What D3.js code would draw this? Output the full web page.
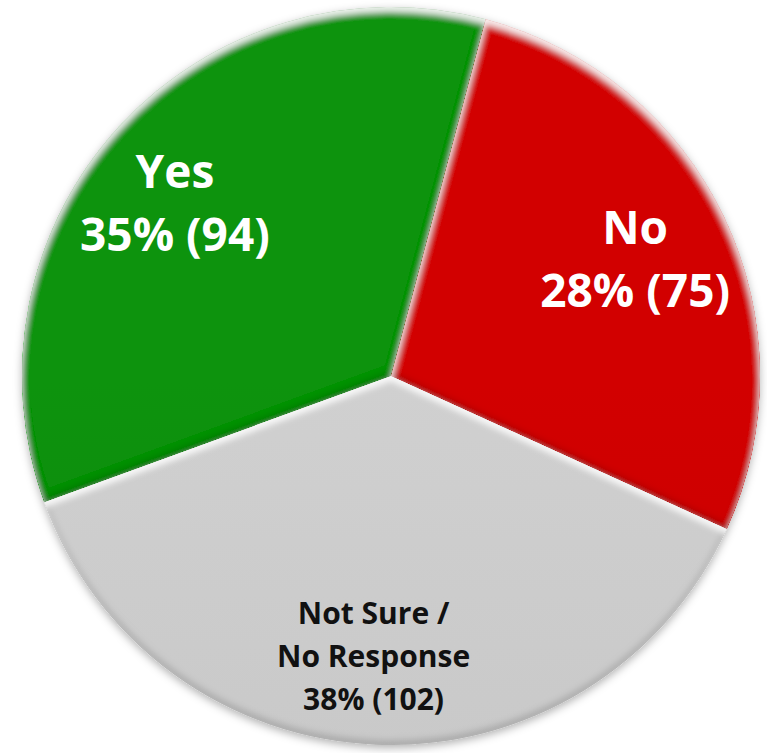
<!DOCTYPE html>
<html>
<head>
<meta charset="utf-8">
<script src="https://cdn.jsdelivr.net/npm/d3@7"></script>
<style>
  html, body { margin: 0; padding: 0; background: #fff; }
  svg { display: block; }
</style>
</head>
<body>
<svg id="chart" width="767" height="753"></svg>
<script>
// Survey responses
const categories = ["Yes", "No", "Not Sure / No Response"];
const counts = [94, 75, 102];
const percents = [35, 28, 38];
const labelLines = [
  ["Yes", "35% (94)"],
  ["No", "28% (75)"],
  ["Not Sure /", "No Response", "38% (102)"]
];

const sliceColors = {
  "Yes": ["#0b930b", "#078807", "#057905"],
  "No": ["#d20000", "#c90000", "#ba0000"],
  "Not Sure / No Response": ["#d0d0d0", "#c9c9c9", "#c0c0c0"]
};
const textColors = { "Yes": "#ffffff", "No": "#ffffff", "Not Sure / No Response": "#111111" };
const textStyle = {
  "Yes": { size: 46, lineH: 63, dx: -20, dy: 23 },
  "No": { size: 46, lineH: 63, dx: 4, dy: 13 },
  "Not Sure / No Response": { size: 30, lineH: 43, dx: -7, dy: 26 }
};

const W = 767, H = 753;
const cx = 391, cy = 376, R = 369;

const data = categories.map((c, i) => ({ name: c, count: counts[i], pct: percents[i], lines: labelLines[i] }));

const svg = d3.select("#chart");
const defs = svg.append("defs");

// soft drop shadow under the whole pie
const ds = defs.append("filter").attr("id", "pieShadow")
  .attr("x", "-10%").attr("y", "-10%").attr("width", "120%").attr("height", "120%");
ds.append("feDropShadow").attr("dx", 0).attr("dy", 3).attr("stdDeviation", 4)
  .attr("flood-color", "#000").attr("flood-opacity", 0.3);

// inner bevel: light from the top, shade along the bottom edges
const bv = defs.append("filter").attr("id", "bevel")
  .attr("x", "-5%").attr("y", "-5%").attr("width", "110%").attr("height", "110%");
bv.append("feGaussianBlur").attr("in", "SourceAlpha").attr("stdDeviation", 3).attr("result", "blur");
bv.append("feOffset").attr("in", "blur").attr("dy", 5).attr("result", "down");
bv.append("feComposite").attr("in", "SourceAlpha").attr("in2", "down")
  .attr("operator", "arithmetic").attr("k2", 1).attr("k3", -1).attr("result", "hiMask");
bv.append("feFlood").attr("flood-color", "#ffffff").attr("flood-opacity", 0.85).attr("result", "white");
bv.append("feComposite").attr("in", "white").attr("in2", "hiMask").attr("operator", "in").attr("result", "hi");
bv.append("feOffset").attr("in", "blur").attr("dy", -5).attr("result", "up");
bv.append("feComposite").attr("in", "SourceAlpha").attr("in2", "up")
  .attr("operator", "arithmetic").attr("k2", 1).attr("k3", -1).attr("result", "shMask");
bv.append("feFlood").attr("flood-color", "#000000").attr("flood-opacity", 0.3).attr("result", "black");
bv.append("feComposite").attr("in", "black").attr("in2", "shMask").attr("operator", "in").attr("result", "sh");
const merge = bv.append("feMerge");
merge.append("feMergeNode").attr("in", "SourceGraphic");
merge.append("feMergeNode").attr("in", "sh");
merge.append("feMergeNode").attr("in", "hi");

// vertical gradients per slice
data.forEach((d, i) => {
  const g = defs.append("linearGradient").attr("id", "grad" + i)
    .attr("gradientUnits", "userSpaceOnUse")
    .attr("x1", 0).attr("y1", cy - R).attr("x2", 0).attr("y2", cy + R);
  const cols = sliceColors[d.name];
  g.append("stop").attr("offset", "0%").attr("stop-color", cols[0]);
  g.append("stop").attr("offset", "50%").attr("stop-color", cols[1]);
  g.append("stop").attr("offset", "100%").attr("stop-color", cols[2]);
});

const start = -110 * Math.PI / 180;
const pie = d3.pie().value(d => d.count).sort(null)
  .startAngle(start).endAngle(start + 2 * Math.PI);
const arcs = pie(data);

const arc = d3.arc().innerRadius(0).outerRadius(R);
const labelArc = d3.arc().innerRadius(R * 0.72).outerRadius(R * 0.72);

const root = svg.append("g").attr("transform", `translate(${cx},${cy})`);
const pieG = root.append("g").attr("filter", "url(#pieShadow)");

pieG.selectAll("path.slice")
  .data(arcs)
  .join("path")
  .attr("class", "slice")
  .attr("d", arc)
  .attr("fill", (d, i) => `url(#grad${i})`)
  .attr("filter", "url(#bevel)");

// slice labels
root.selectAll("text.label")
  .data(arcs)
  .join("text")
  .attr("class", "label")
  .attr("text-anchor", "middle")
  .attr("font-family", "'Open Sans', 'Noto Sans', sans-serif")
  .attr("font-weight", 700)
  .attr("fill", d => textColors[d.data.name])
  .attr("font-size", d => textStyle[d.data.name].size)
  .each(function (d) {
    const st = textStyle[d.data.name];
    const [x, y] = labelArc.centroid(d);
    const n = d.data.lines.length;
    d3.select(this).selectAll("tspan")
      .data(d.data.lines)
      .join("tspan")
      .attr("x", x + st.dx)
      .attr("y", (t, j) => y + st.dy + (j - (n - 1) / 2) * st.lineH)
      .text(t => t);
  });
</script>
</body>
</html>
